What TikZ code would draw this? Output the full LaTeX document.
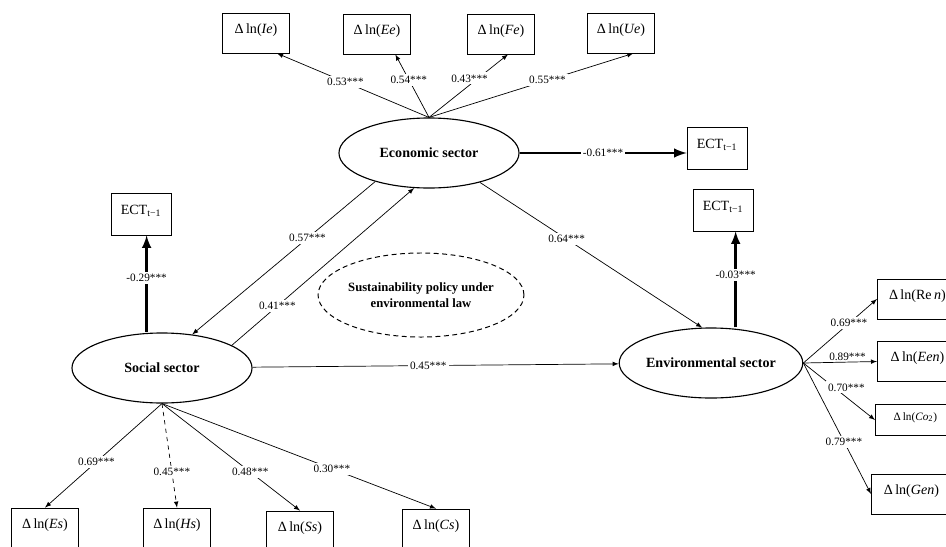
\documentclass[tikz,border=0pt]{standalone}
\usepackage{fontspec}
\setmainfont{Liberation Serif}
\usetikzlibrary{shapes.geometric}

\begin{document}
\begin{tikzpicture}[x=0.025cm, y=-0.025cm,
    sector/.style={draw, ellipse, line width=0.8pt, inner sep=0pt, minimum width=4.5cm, minimum height=1.75cm, font=\bfseries\fontsize{10}{12}\selectfont},
    var/.style={draw, rectangle, line width=0.6pt, minimum width=1.68cm, text height=10pt, text depth=10pt, inner ysep=4.2pt, font=\fontsize{10}{12}\selectfont},
    rvar/.style={var, minimum width=2cm, anchor=west},
    ectbox/.style={draw, rectangle, line width=0.6pt, minimum width=1.5cm, text height=10.5pt, text depth=10.5pt, inner ysep=4.4pt, font=\fontsize{10}{12}\selectfont},
    lbl/.style={fill=white, inner sep=1.5pt, font=\fontsize{8}{9}\selectfont},
    load/.style={-latex, line width=0.5pt},
    ectpath/.style={-latex, line width=2pt}]
    \clip (0,0) rectangle (946,546);
    % latent sectors
    \node[sector] (econ) at (429,153) {Economic sector};
    \node[sector] (soc) at (162,368) {Social sector};
    \node[sector, minimum width=4.42cm] (env) at (711,363) {Environmental sector};
    \node[draw, ellipse, line width=0.7pt, dash pattern=on 3.5pt off 2.5pt, minimum width=4.45cm, minimum height=2.1cm, inner sep=0pt, align=center, font=\bfseries\fontsize{9}{11.4}\selectfont] (pol) at (421,295) {Sustainability policy under\\environmental law};
    % indicators
    \node[var] (ie) at (256,33) {Δ\,ln(\textit{Ie})};
    \node[var] (ee) at (377,34) {Δ\,ln(\textit{Ee})};
    \node[var] (fe) at (501,34) {Δ\,ln(\textit{Fe})};
    \node[var] (ue) at (621,33) {Δ\,ln(\textit{Ue})};
    \node[var] (es) at (45,528) {Δ\,ln(\textit{Es})};
    \node[var] (hs) at (177,528) {Δ\,ln(\textit{Hs})};
    \node[var] (ss) at (300,531) {Δ\,ln(\textit{Ss})};
    \node[var] (cs) at (436,529) {Δ\,ln(\textit{Cs})};
    \node[rvar] (ren) at (877,299) {Δ\,ln(Re\,\textit{n})};
    \node[rvar] (een) at (877,361.5) {Δ\,ln(\textit{Een})};
    \node[rvar, text height=7.5pt, text depth=7.5pt, inner ysep=3.5pt, font=\fontsize{8}{10}\selectfont] (co2) at (875,420) {Δ\,ln(\textit{Co}\textsubscript{2})};
    \node[rvar] (gen) at (871,494) {Δ\,ln(\textit{Gen})};
    % error correction terms
    \node[ectbox] (eect) at (717,148) {ECT\textsubscript{t−1}};
    \node[ectbox] (sect) at (141,214) {ECT\textsubscript{t−1}};
    \node[ectbox] (vect) at (723,210) {ECT\textsubscript{t−1}};
    \coordinate (sa) at ([xshift=4pt]sect.south);
    \coordinate (va) at ([xshift=9pt]vect.south);

    \draw[load] (econ.north) to node[lbl, pos=.55] {0.53***} (ie.-44);
    \draw[load] (econ.north) to node[lbl, pos=.6] {0.54***} (ee.-48);
    \draw[load] (econ.north) to node[lbl, pos=.62, xshift=-6pt] {0.43***} (fe.-71);
    \draw[load] (econ.north) to node[lbl, pos=.58] {0.55***} (ue.-59);
    \draw[ectpath] (econ.east) to node[lbl] {-0.61***} (econ.east -| eect.west);
    \draw[ectpath] (sa |- soc.north) to node[lbl, pos=.56] {-0.29***} (sa);
    \draw[ectpath] (va |- env.north) to node[lbl, pos=.55] {-0.03***} (va);
    \draw[load] (econ.208) to node[lbl, pos=.37] {0.57***} (soc.48);
    \draw[load] (soc.18) to node[lbl, pos=.25] {0.41***} (econ.247);
    \draw[load] (econ.330) to node[lbl, pos=.39] {0.64***} (env.104);
    \draw[load] (soc) to node[lbl, pos=.48] {0.45***} (env);
    \draw[load] (env.east) to node[lbl, pos=.62] {0.69***} (ren.west);
    \draw[load] (env.east) to node[above, pos=.6, inner sep=0.5pt, font=\fontsize{8}{9}\selectfont] {0.89***} (een.west);
    \draw[load] (env.east) to node[lbl, pos=.6, yshift=7pt] {0.70***} (co2.west);
    \draw[load] (env.east) to node[lbl, pos=.6] {0.79***} (gen.west);
    \draw[load] (soc.south) to node[lbl, pos=.56] {0.69***} (es.north);
    \draw[load, dashed] (soc.south) to node[lbl, pos=.66] {0.45***} (hs.north);
    \draw[load] (soc.south) to node[lbl, pos=.64] {0.48***} (ss.north);
    \draw[load] (soc.south) to node[lbl, pos=.62] {0.30***} (cs.north);
\end{tikzpicture}
\end{document}
